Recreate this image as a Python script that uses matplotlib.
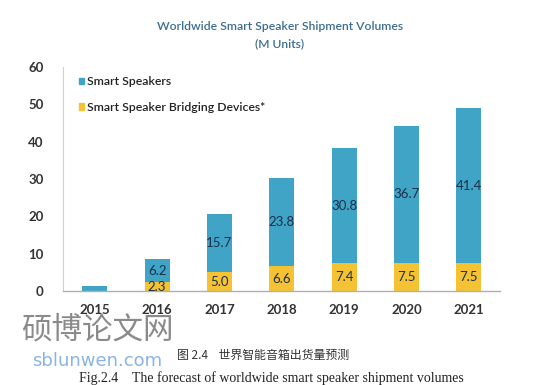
import matplotlib
matplotlib.use("Agg")
import matplotlib.pyplot as plt
import numpy as np
from matplotlib.patches import Patch

years = ["2015", "2016", "2017", "2018", "2019", "2020", "2021"]
smart_speakers = [1.4, 6.2, 15.7, 23.8, 30.8, 36.7, 41.4]
bridging = [0.0, 2.3, 5.0, 6.6, 7.4, 7.5, 7.5]
speaker_labels = ["", "6.2", "15.7", "23.8", "30.8", "36.7", "41.4"]
bridging_labels = ["", "2.3", "5.0", "6.6", "7.4", "7.5", "7.5"]
yticks = [0, 10, 20, 30, 40, 50, 60]

BLUE = "#40a4c6"
YELLOW = "#f4c232"
LABEL_C = "#1c2f4a"
TICK_C = "#333333"

plt.rcParams['font.family'] = ['Lato', 'DejaVu Sans']

fig = plt.figure(figsize=(5.56, 3.85), dpi=100)
ax = fig.add_axes([63/556, 1-291/385, (500-63)/556, (291-67)/385])

x = np.arange(len(years))
w = 0.40
ax.bar(x, bridging, width=w, color=YELLOW, zorder=2)
ax.bar(x, smart_speakers, width=w, bottom=bridging, color=BLUE, zorder=2)

for i in range(len(years)):
    if speaker_labels[i]:
        ax.text(x[i], bridging[i] + smart_speakers[i] / 2, speaker_labels[i],
                ha="center", va="center", fontsize=9.5, color=LABEL_C, zorder=3)
    if bridging_labels[i]:
        ax.text(x[i], bridging[i] / 2 if bridging[i] > 3 else 1.15, bridging_labels[i],
                ha="center", va="center", fontsize=9.5, color=LABEL_C, zorder=3)

ax.set_xlim(-0.51, 6.5)
ax.set_ylim(0, 60)
ax.set_yticks(yticks)
ax.set_xticks(x)
ax.set_xticklabels(years)
ax.tick_params(axis="both", length=0, labelsize=9.5, colors=TICK_C)
ax.tick_params(axis="y", pad=14)
ax.tick_params(axis="x", pad=9)
for lab in ax.get_xticklabels() + ax.get_yticklabels():
    lab.set_fontweight("bold")
for s in ["top", "right"]:
    ax.spines[s].set_visible(False)
ax.spines["left"].set_color("#d0d0d0")
ax.spines["left"].set_linewidth(0.8)
ax.spines["bottom"].set_color("#b0b0b0")
ax.spines["bottom"].set_linewidth(1.0)

handles = [Patch(color=BLUE, label="Smart Speakers"),
           Patch(color=YELLOW, label="Smart Speaker Bridging Devices*")]
leg = ax.legend(handles=handles, loc="upper left", bbox_to_anchor=(0.025, 0.98),
                frameon=False, fontsize=8.8, handlelength=0.45, handleheight=0.45,
                handletextpad=0.25, labelspacing=1.2, borderaxespad=0)
for t in leg.get_texts():
    t.set_color("#222222")
    t.set_fontweight("semibold")

fig.text(280/556, 1-27/385, "Worldwide Smart Speaker Shipment Volumes",
         ha="center", va="center", fontsize=8.7, color="#3a6d90", fontweight="semibold")
fig.text(280/556, 1-44/385, "(M Units)",
         ha="center", va="center", fontsize=8.7, color="#3a6d90", fontweight="semibold")

# watermark
fig.text(97/556, 1-330/385, "硕博论文网", ha="center", va="center", fontsize=22,
         color="#8a8a8a", family=["Noto Sans CJK SC"])
fig.text(97/556, 1-361/385, "sblunwen.com", ha="center", va="center", fontsize=13,
         color="#8ab4e6", family=["DejaVu Sans"])

# captions
fig.text(263/556, 1-355/385, "图 2.4    世界智能音箱出货量预测", ha="center", va="center",
         fontsize=8.6, color="#333333", family=["Noto Sans CJK SC", "DejaVu Sans"])
fig.text(271/556, 1-378/385, "Fig.2.4    The forecast of worldwide smart speaker shipment volumes",
         ha="center", va="center", fontsize=10, color="#222222",
         family=["Liberation Serif", "DejaVu Serif"])

fig.savefig("out.png", dpi=100)
